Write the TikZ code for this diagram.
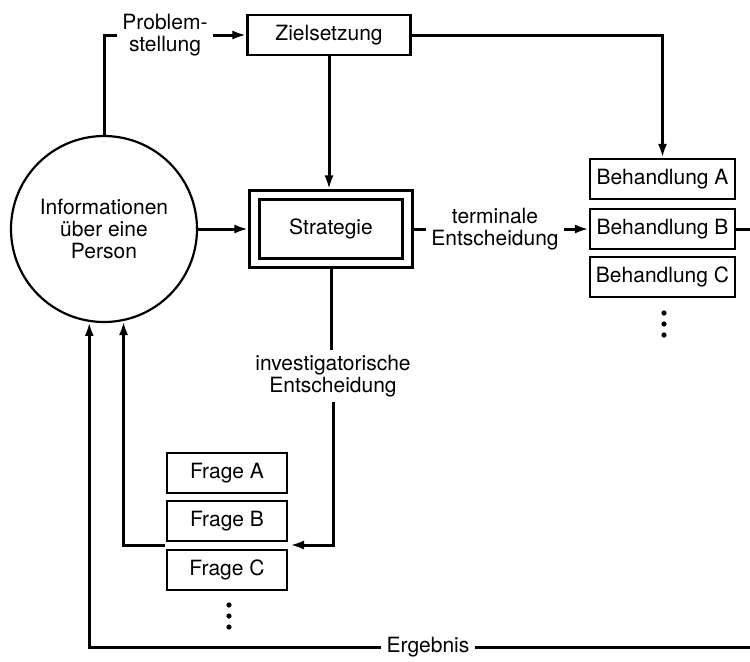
\documentclass[tikz,border=0pt]{standalone}
\usepackage{fontspec}
\setmainfont{TeX Gyre Heros}
\usetikzlibrary{arrows.meta}
\tikzset{
  box/.style={draw,line width=1.1pt,inner sep=0pt,minimum height=20pt},
  lbl/.style={align=center,inner sep=2.5pt},
  con/.style={line width=1.5pt},
  arr/.style={con,-{Latex[length=7pt,width=4.5pt]}}
}
\begin{document}
\begin{tikzpicture}[x=0.5pt,y=-0.5pt,font=\fontsize{10.5}{10.8}\selectfont]
              \useasboundingbox (0,0) rectangle (750,661);
              \node[circle,draw,line width=1.1pt,minimum size=93pt,inner sep=0pt,align=center](info)at(104,229){Informationen\\über eine\\Person};
              \node[box,minimum width=81.5pt](ziel)at(329,35){Zielsetzung};
              \node[box,minimum width=81.5pt,minimum height=38.5pt](stratout)at(331,229){};
              \node[box,minimum width=71.5pt,minimum height=29.5pt](strat)at(331,229){Strategie};
              \node[lbl](prob)at(165,35){Problem-\\stellung};
              \node[lbl](term)at(495,229){terminale\\Entscheidung};
              \node[lbl](invest)at(333,376){investigatorische\\Entscheidung};
              \node[lbl](erg)at(428,647){Ergebnis};
              \foreach \n/\y in {A/179, B/229, C/277} \node[box,minimum width=72.5pt](beh\n)at(662.5,\y){Behandlung \n};
              \foreach \n/\y in {A/473, B/521, C/570} \node[box,minimum width=60pt](frage\n)at(227,\y){Frage \n};
              \foreach \y in {313,324,335} \fill(664,\y)circle(1.3pt);
              \foreach \y in {605,616,627} \fill(229,\y)circle(1.3pt);
              \coordinate(fin)at(290,545);
              \coordinate(fout)at(165,545);
              \coordinate(behR)at(750,229);
              \coordinate(ergR)at(750,647);
              \draw[con](info.north)|-(prob.west);
              \draw[arr](prob.east)--(ziel.west);
              \draw[arr](ziel.east)-|(behA.north);
              \draw[arr](ziel.south)--(ziel.south|-stratout.north);
              \draw[arr](info.east)--(stratout.west);
              \draw[con](stratout.east)--(term.west);
              \draw[arr](term.east)--(behB.west);
              \draw[con](behB.east)--(behR);
              \draw[con](stratout.south)--(stratout.south|-invest.north);
              \draw[arr](invest.south)|-(fin);
              \draw[arr](fout)-|(info.-78);
              \draw[con](ergR)--(erg.east);
              \draw[arr](erg.west)-|(info.-99);
            \end{tikzpicture}
\end{document}
